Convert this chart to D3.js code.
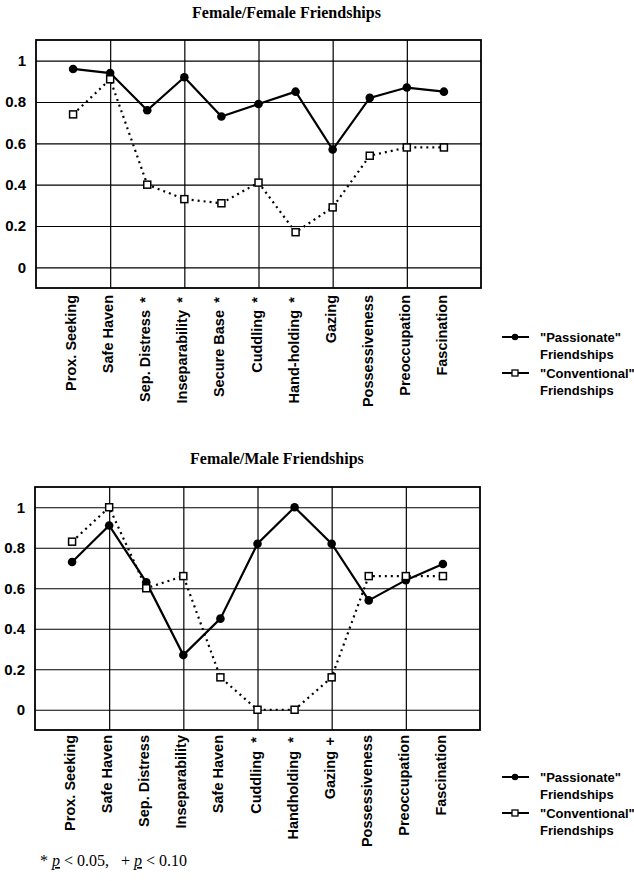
<!DOCTYPE html>
<html>
<head>
<meta charset="utf-8">
<script src="https://cdn.jsdelivr.net/npm/d3@7"></script>
<style>
  body { margin: 0; background: #fff; }
  svg { display: block; }
</style>
</head>
<body>
<div id="chart"></div>
<script>
// Data
var categoriesTop = ["Prox. Seeking", "Safe Haven", "Sep. Distress", "Inseparability", "Secure Base",
  "Cuddling", "Hand-holding", "Gazing", "Possessiveness", "Preoccupation", "Fascination"];
var markersTop = ["", "", "*", "*", "*", "*", "*", "", "", "", ""];
var passionateTop = [0.96, 0.94, 0.76, 0.92, 0.73, 0.79, 0.85, 0.57, 0.82, 0.87, 0.85];
var conventionalTop = [0.74, 0.91, 0.40, 0.33, 0.31, 0.41, 0.17, 0.29, 0.54, 0.58, 0.58];

var categoriesBottom = ["Prox. Seeking", "Safe Haven", "Sep. Distress", "Inseparability", "Safe Haven",
  "Cuddling", "Handholding", "Gazing", "Possessiveness", "Preoccupation", "Fascination"];
var markersBottom = ["", "", "", "", "", "*", "*", "+", "", "", ""];
var passionateBottom = [0.73, 0.91, 0.63, 0.27, 0.45, 0.82, 1.00, 0.82, 0.54, 0.64, 0.72];
var conventionalBottom = [0.83, 1.00, 0.60, 0.66, 0.16, 0.00, 0.00, 0.16, 0.66, 0.66, 0.66];

var yTicks = [0, 0.2, 0.4, 0.6, 0.8, 1];
var gridCats = [1, 3, 5, 7, 9];
var legendLabels = [["\"Passionate\"", "Friendships"], ["\"Conventional\"", "Friendships"]];

var svg = d3.select("#chart").append("svg")
  .attr("width", 634)
  .attr("height", 881);

var sans = "'Liberation Sans', Arial, sans-serif";
var serif = "'Liberation Serif', 'Times New Roman', serif";

function drawPanel(p) {
  var g = svg.append("g");

  var x = d3.scalePoint()
    .domain(d3.range(p.categories.length))
    .range([p.left, p.right])
    .padding(1);
  var y = d3.scaleLinear()
    .domain([-0.1, 1.1])
    .range([p.bottom, p.top]);

  // title
  g.append("text")
    .attr("x", p.titleX)
    .attr("y", p.titleY)
    .attr("font-family", serif)
    .attr("font-weight", "bold")
    .attr("font-size", "16px")
    .text(p.title);

  // horizontal grid + y labels
  var yAxis = g.append("g")
    .attr("transform", "translate(" + p.left + ",0)")
    .call(d3.axisLeft(y).tickValues(yTicks).tickSize(-(p.right - p.left))
      .tickPadding(10).tickFormat(d3.format("")));
  yAxis.select(".domain").remove();
  yAxis.selectAll("line").attr("stroke", "#000").attr("stroke-width", 1.2);
  yAxis.selectAll("text")
    .attr("font-family", sans)
    .attr("font-weight", "bold")
    .attr("font-size", "15px")
    .attr("fill", "#000");

  // vertical grid
  var xAxis = g.append("g")
    .attr("transform", "translate(0," + p.bottom + ")")
    .call(d3.axisBottom(x).tickValues(gridCats).tickSize(-(p.bottom - p.top)).tickFormat(""));
  xAxis.select(".domain").remove();
  xAxis.selectAll("line").attr("stroke", "#000").attr("stroke-width", 1.2);

  // frame
  g.append("rect")
    .attr("x", p.left)
    .attr("y", p.top)
    .attr("width", p.right - p.left)
    .attr("height", p.bottom - p.top)
    .attr("fill", "none")
    .attr("stroke", "#000")
    .attr("stroke-width", 1.8);

  // category labels, rotated
  var labels = g.selectAll(".cat")
    .data(p.categories)
    .enter().append("g")
    .attr("class", "cat")
    .attr("transform", function(d, i) { return "translate(" + x(i) + "," + p.labelTop + ") rotate(-90)"; });

  labels.append("text")
    .attr("x", function(d, i) { return p.markers[i] ? -p.markerGap : 0; })
    .attr("y", 3)
    .attr("text-anchor", "end")
    .attr("font-family", sans)
    .attr("font-weight", "bold")
    .attr("font-size", "14.5px")
    .text(function(d) { return d; });

  labels.append("text")
    .attr("x", -2)
    .attr("y", 3)
    .attr("text-anchor", "end")
    .attr("font-family", sans)
    .attr("font-weight", "bold")
    .attr("font-size", "14.5px")
    .text(function(d, i) { return p.markers[i]; });

  var line = d3.line()
    .x(function(d, i) { return x(i); })
    .y(function(d) { return y(d); });

  // conventional (dotted)
  g.append("path")
    .datum(p.conventional)
    .attr("d", line)
    .attr("fill", "none")
    .attr("stroke", "#000")
    .attr("stroke-width", 2.2)
    .attr("stroke-dasharray", "2,4");

  // passionate (solid)
  g.append("path")
    .datum(p.passionate)
    .attr("d", line)
    .attr("fill", "none")
    .attr("stroke", "#000")
    .attr("stroke-width", 2.2);

  g.selectAll(".pt")
    .data(p.passionate)
    .enter().append("circle")
    .attr("cx", function(d, i) { return x(i); })
    .attr("cy", function(d) { return y(d); })
    .attr("r", 4.3)
    .attr("fill", "#000");

  g.selectAll(".sq")
    .data(p.conventional)
    .enter().append("rect")
    .attr("x", function(d, i) { return x(i) - 3.5; })
    .attr("y", function(d) { return y(d) - 3.5; })
    .attr("width", 7)
    .attr("height", 7)
    .attr("fill", "#fff")
    .attr("stroke", "#000")
    .attr("stroke-width", 1.5);

  // legend
  var lg = g.append("g");
  legendLabels.forEach(function(lab, k) {
    var ly = p.legendY[k];
    lg.append("line")
      .attr("x1", 502).attr("x2", 529)
      .attr("y1", ly).attr("y2", ly)
      .attr("stroke", "#000")
      .attr("stroke-width", 2);
    if (k === 0) {
      lg.append("circle").attr("cx", 515).attr("cy", ly).attr("r", 3.2).attr("fill", "#000");
    } else {
      lg.append("rect").attr("x", 512).attr("y", ly - 3).attr("width", 6).attr("height", 6)
        .attr("fill", "#fff").attr("stroke", "#000").attr("stroke-width", 1.3);
    }
    lab.forEach(function(t, j) {
      lg.append("text")
        .attr("x", 540)
        .attr("y", ly + 5 + j * 17)
        .attr("font-family", sans)
        .attr("font-weight", "bold")
        .attr("font-size", "13px")
        .text(t);
    });
  });
}

drawPanel({
  title: "Female/Female Friendships", titleX: 192, titleY: 18,
  categories: categoriesTop, markers: markersTop,
  passionate: passionateTop, conventional: conventionalTop,
  left: 36, right: 481, top: 40, bottom: 288,
  labelTop: 295, markerGap: 15,
  legendY: [337, 373]
});

drawPanel({
  title: "Female/Male Friendships", titleX: 190, titleY: 464,
  categories: categoriesBottom, markers: markersBottom,
  passionate: passionateBottom, conventional: conventionalBottom,
  left: 35, right: 480, top: 487, bottom: 730,
  labelTop: 735, markerGap: 16,
  legendY: [777, 813]
});

// footnote
var foot = svg.append("text")
  .attr("x", 40)
  .attr("y", 866)
  .attr("font-family", serif)
  .attr("font-size", "16px")
  .style("white-space", "pre");
foot.append("tspan").text("* ");
foot.append("tspan").attr("text-decoration", "underline").attr("font-style", "italic").text("p");
foot.append("tspan").text(" < 0.05,   + ");
foot.append("tspan").attr("text-decoration", "underline").attr("font-style", "italic").text("p");
foot.append("tspan").text(" < 0.10");
</script>
</body>
</html>
